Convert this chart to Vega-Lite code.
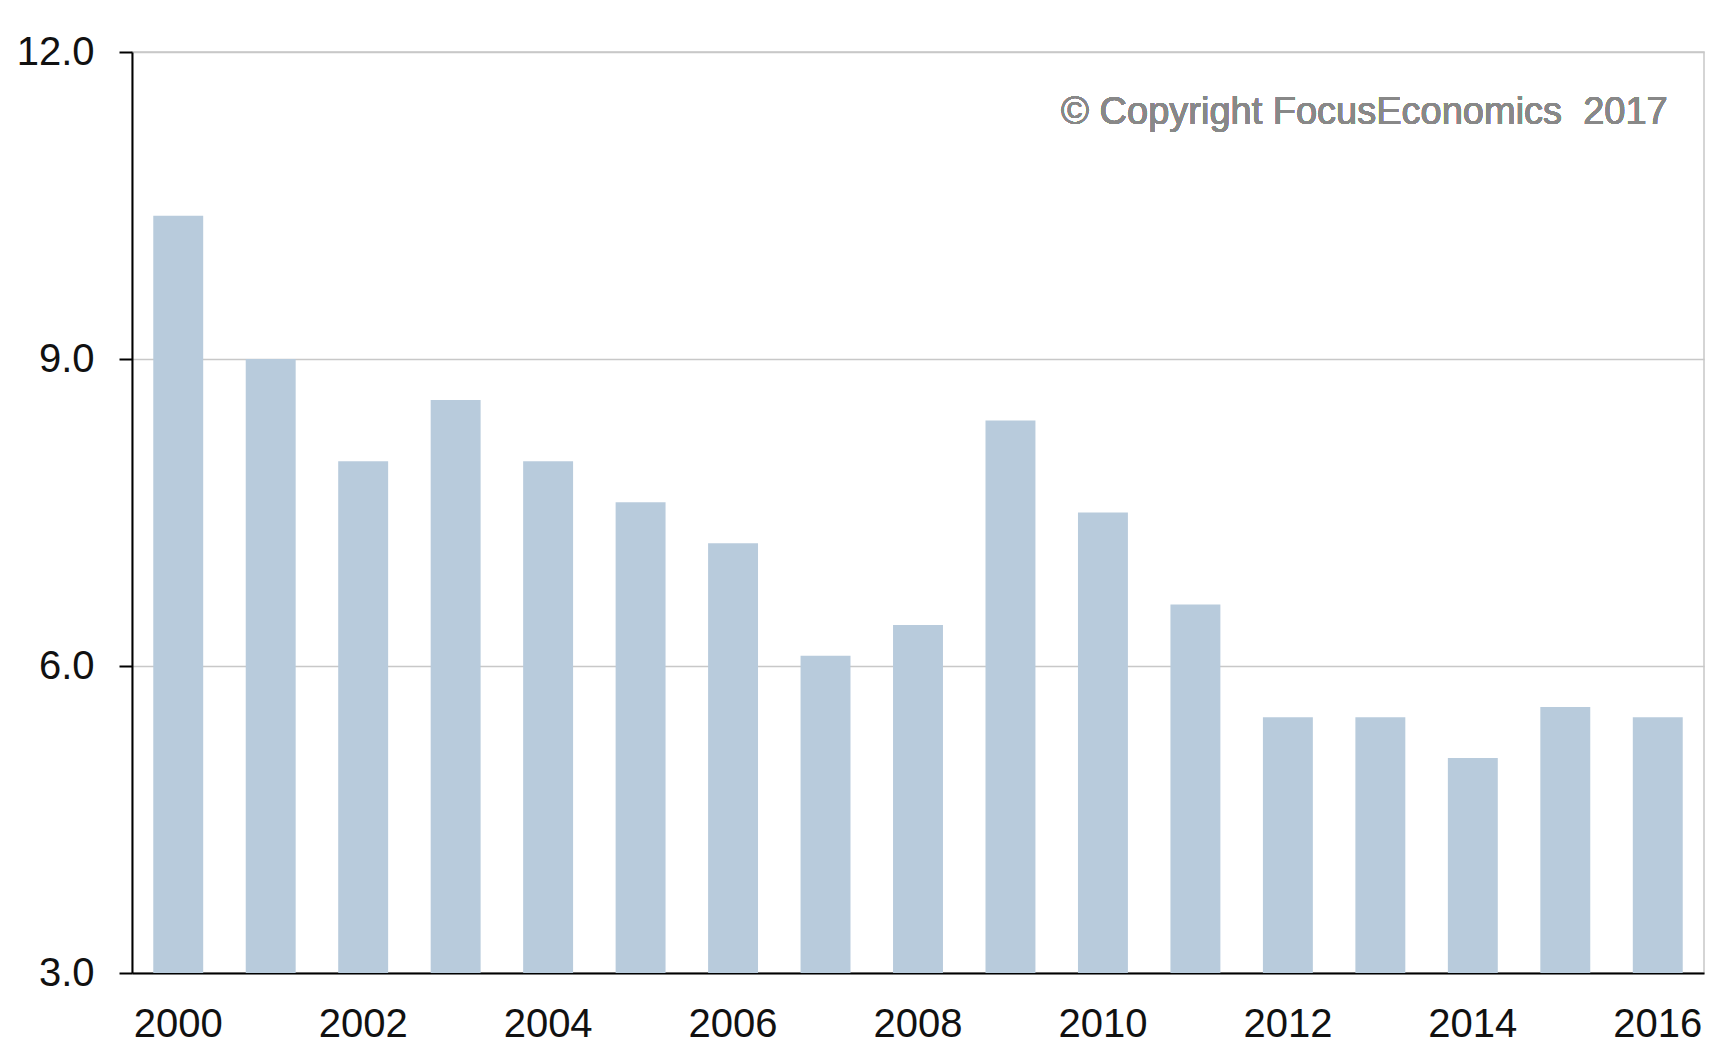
{
  "$schema": "https://vega.github.io/schema/vega-lite/v6.json",
  "width": 1572,
  "height": 921,
  "autosize": {"type": "none"},
  "padding": {"left": 132, "top": 52, "right": 9, "bottom": 86},
  "background": "white",
  "config": {
    "font": "Liberation Sans",
    "view": {"stroke": "#c8c8c8", "strokeWidth": 1.5}
  },
  "data": {
    "values": [
      {"year": "2000", "value": 10.4},
      {"year": "2001", "value": 9.0},
      {"year": "2002", "value": 8.0},
      {"year": "2003", "value": 8.6},
      {"year": "2004", "value": 8.0},
      {"year": "2005", "value": 7.6},
      {"year": "2006", "value": 7.2},
      {"year": "2007", "value": 6.1},
      {"year": "2008", "value": 6.4},
      {"year": "2009", "value": 8.4},
      {"year": "2010", "value": 7.5},
      {"year": "2011", "value": 6.6},
      {"year": "2012", "value": 5.5},
      {"year": "2013", "value": 5.5},
      {"year": "2014", "value": 5.1},
      {"year": "2015", "value": 5.6},
      {"year": "2016", "value": 5.5}
    ]
  },
  "layer": [
    {
      "mark": {"type": "bar", "color": "#b8cbdc"},
      "encoding": {
        "x": {
          "field": "year",
          "type": "ordinal",
          "scale": {"paddingInner": 0.46, "paddingOuter": 0.23},
          "axis": {
            "title": null,
            "labelAngle": 0,
            "ticks": false,
            "domainColor": "#000000",
            "domainWidth": 2,
            "labelFontSize": 40,
            "labelColor": "#111111",
            "labelPadding": 31,
            "labelExpr": "toNumber(datum.value) % 2 == 0 ? datum.value : ''"
          }
        },
        "y": {
          "field": "value",
          "type": "quantitative",
          "scale": {"domain": [3, 12], "zero": false, "nice": false},
          "axis": {
            "title": null,
            "values": [3, 6, 9, 12],
            "format": ".1f",
            "grid": true,
            "gridColor": "#c8c8c8",
            "gridWidth": 1.5,
            "domainColor": "#000000",
            "domainWidth": 2,
            "tickColor": "#000000",
            "tickWidth": 2,
            "tickSize": 13,
            "labelFontSize": 40,
            "labelColor": "#111111",
            "labelPadding": 25
          }
        },
        "y2": {"datum": 3}
      }
    },
    {
      "mark": {"type": "text", "align": "right", "baseline": "middle", "fontSize": 38, "color": "#888888", "dx": 10},
      "encoding": {
        "x": {"datum": "2016", "type": "ordinal"},
        "y": {"datum": 11.4, "type": "quantitative"},
        "text": {"value": "© Copyright FocusEconomics\u00a0 2017"}
      }
    }
  ]
}
